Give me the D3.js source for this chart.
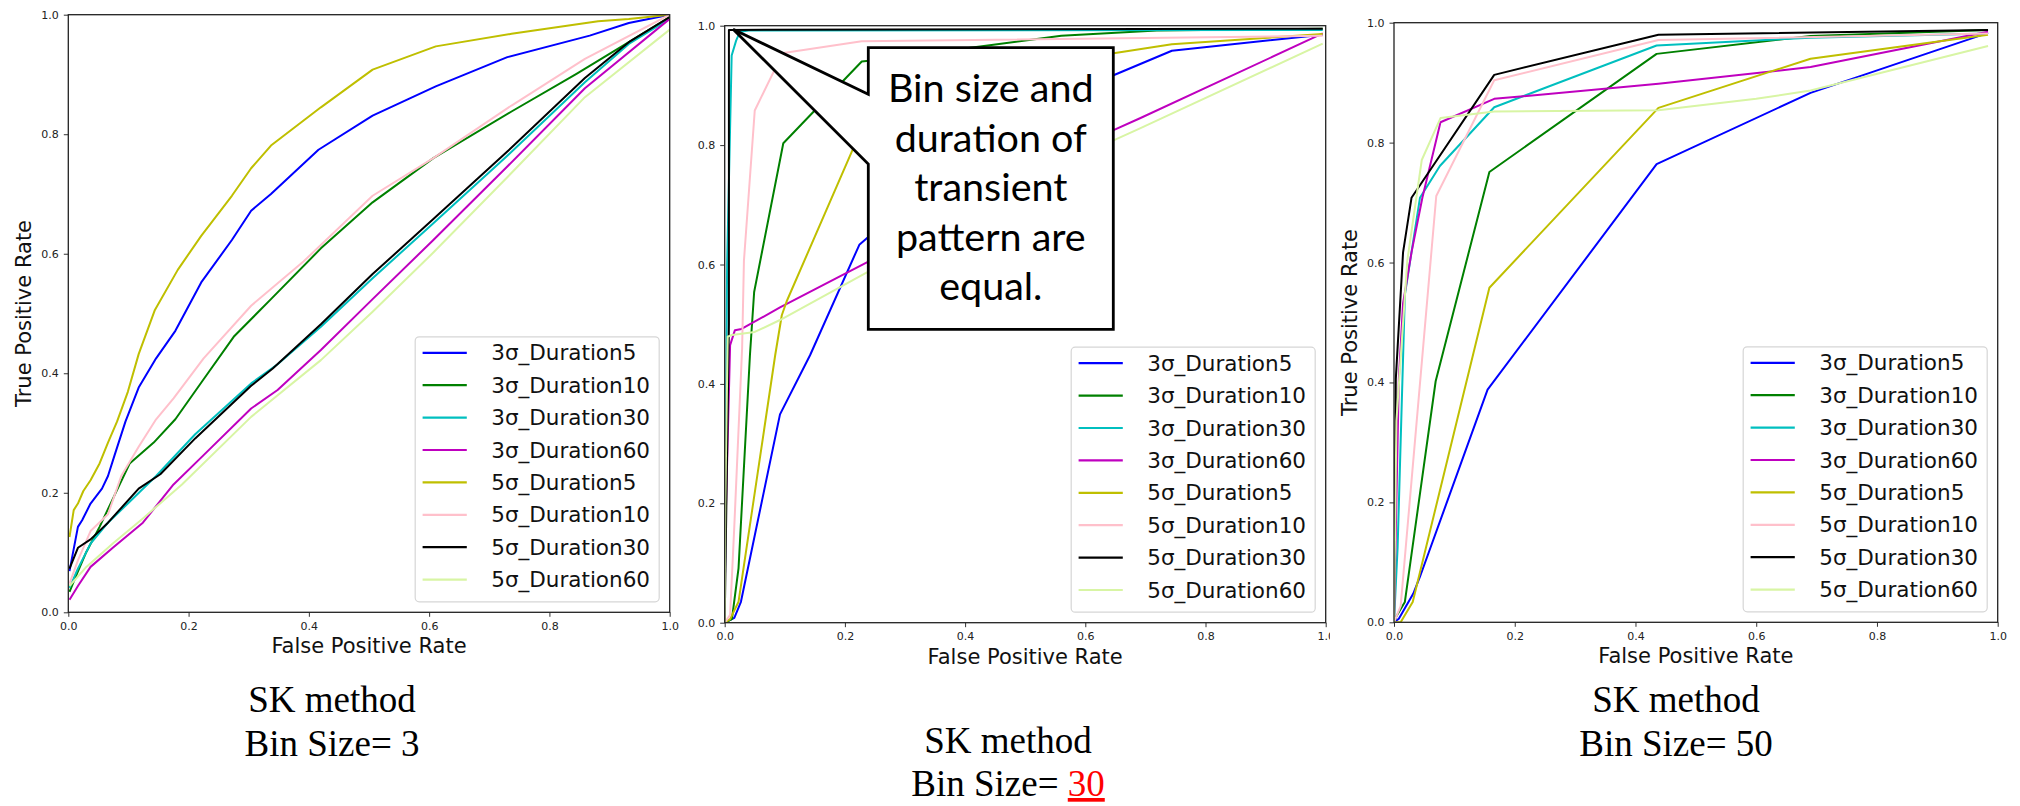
<!DOCTYPE html>
<html>
<head>
<meta charset="utf-8">
<script src="https://cdn.jsdelivr.net/npm/d3@7"></script>
<style>
  html, body { margin: 0; padding: 0; background: #fff; }
  svg { display: block; }
</style>
</head>
<body>
<svg id="chart" width="2020" height="806"></svg>
<script>
// legend names and line colours (matplotlib short colours)
var seriesNames = ["3σ_Duration5", "3σ_Duration10", "3σ_Duration30", "3σ_Duration60",
                   "5σ_Duration5", "5σ_Duration10", "5σ_Duration30", "5σ_Duration60"];
var seriesColors = ["#0000ff", "#008000", "#00bfbf", "#bf00bf",
                    "#bfbf00", "#ffc0cb", "#000000", "#d8f5a4"];
var tickValues = [0, 0.2, 0.4, 0.6, 0.8, 1.0];

// ---- Bin size 3 (FPR, TPR) ----
var bin3_3s_d5 = [[0.002,0.069],[0.016,0.143],[0.023,0.154],[0.037,0.182],[0.056,0.207],[0.066,0.228],[0.077,0.263],[0.095,0.319],[0.117,0.376],[0.146,0.425],[0.178,0.471],[0.221,0.552],[0.272,0.623],[0.304,0.672],[0.337,0.700],[0.416,0.774],[0.506,0.831],[0.611,0.880],[0.73,0.929],[0.867,0.965],[0.932,0.986],[1,1]];
var bin3_3s_d10 = [[0.002,0.034],[0.012,0.059],[0.03,0.101],[0.052,0.143],[0.077,0.196],[0.102,0.249],[0.142,0.284],[0.178,0.323],[0.225,0.39],[0.275,0.461],[0.337,0.524],[0.42,0.609],[0.506,0.686],[0.607,0.76],[0.737,0.838],[0.845,0.901],[0.932,0.954],[1,0.996]];
var bin3_3s_d30 = [[0.002,0.041],[0.016,0.073],[0.037,0.115],[0.066,0.15],[0.102,0.185],[0.146,0.228],[0.211,0.298],[0.304,0.383],[0.348,0.415],[0.42,0.478],[0.506,0.559],[0.607,0.651],[0.73,0.764],[0.859,0.887],[0.932,0.951],[1,0.993]];
var bin3_3s_d60 = [[0.002,0.021],[0.016,0.044],[0.037,0.076],[0.074,0.108],[0.124,0.15],[0.175,0.214],[0.225,0.263],[0.304,0.341],[0.348,0.372],[0.42,0.439],[0.506,0.524],[0.607,0.623],[0.73,0.746],[0.859,0.877],[1,0.993]];
var bin3_5s_d5 = [[0.002,0.126],[0.009,0.171],[0.016,0.182],[0.025,0.203],[0.037,0.221],[0.052,0.249],[0.066,0.284],[0.081,0.319],[0.099,0.369],[0.117,0.432],[0.144,0.506],[0.182,0.573],[0.221,0.63],[0.272,0.697],[0.304,0.743],[0.337,0.781],[0.42,0.845],[0.506,0.908],[0.611,0.947],[0.737,0.968],[0.881,0.989],[0.932,0.993],[1,1]];
var bin3_5s_d10 = [[0.002,0.048],[0.016,0.087],[0.037,0.136],[0.066,0.164],[0.088,0.228],[0.117,0.277],[0.146,0.323],[0.175,0.358],[0.225,0.425],[0.304,0.513],[0.391,0.587],[0.506,0.697],[0.607,0.76],[0.737,0.848],[0.859,0.926],[1,1]];
var bin3_5s_d30 = [[0.002,0.073],[0.016,0.108],[0.037,0.122],[0.066,0.15],[0.117,0.207],[0.153,0.231],[0.211,0.291],[0.304,0.379],[0.34,0.408],[0.42,0.482],[0.506,0.566],[0.607,0.658],[0.73,0.771],[0.859,0.894],[0.932,0.954],[1,0.996]];
var bin3_5s_d60 = [[0.002,0.044],[0.03,0.076],[0.074,0.115],[0.124,0.157],[0.189,0.214],[0.304,0.327],[0.42,0.422],[0.506,0.503],[0.607,0.602],[0.73,0.728],[0.859,0.862],[1,0.975]];

// ---- Bin size 30 ----
var bin30_3s_d5 = [[0,0],[0.016,0.008],[0.027,0.035],[0.092,0.349],[0.142,0.448],[0.224,0.633],[0.45,0.83],[0.647,0.917],[0.744,0.958],[0.995,0.985]];
var bin30_3s_d10 = [[0,0],[0.012,0.006],[0.023,0.091],[0.042,0.448],[0.049,0.554],[0.0975,0.803],[0.228,0.94],[0.236,0.941],[0.425,0.965],[0.56,0.983],[0.719,0.992],[0.995,0.995]];
var bin30_3s_d30 = [[0,0],[0.004,0.6],[0.0116,0.95],[0.019,0.975],[0.0255,0.99],[0.04,0.992],[0.995,0.993]];
var bin30_3s_d60 = [[0,0],[0.001,0.147],[0.009,0.465],[0.017,0.49],[0.028,0.492],[0.092,0.528],[0.239,0.605],[0.647,0.825],[0.691,0.845],[0.995,0.987]];
var bin30_5s_d5 = [[0,0],[0.009,0.006],[0.023,0.035],[0.084,0.448],[0.095,0.515],[0.103,0.538],[0.214,0.795],[0.35,0.91],[0.647,0.954],[0.744,0.969],[0.995,0.986]];
var bin30_5s_d10 = [[0,0],[0.009,0.013],[0.016,0.162],[0.029,0.46],[0.032,0.606],[0.05,0.858],[0.084,0.928],[0.095,0.954],[0.228,0.974],[0.995,0.983]];
var bin30_5s_d30 = [[0,0],[0.007,0.5],[0.007,0.993],[0.995,0.995]];
var bin30_5s_d60 = [[0,0],[0.001,0.2],[0.005,0.479],[0.012,0.482],[0.05,0.487],[0.092,0.507],[0.239,0.588],[0.647,0.808],[0.691,0.828],[0.995,0.97]];

// ---- Bin size 50 ----
var bin50_3s_d5 = [[0,0],[0.008,0.006],[0.032,0.048],[0.043,0.076],[0.155,0.388],[0.435,0.764],[0.69,0.883],[0.984,0.983]];
var bin50_3s_d10 = [[0,0],[0.004,0.01],[0.018,0.034],[0.069,0.402],[0.158,0.751],[0.435,0.948],[0.69,0.978],[0.984,0.988]];
var bin50_3s_d30 = [[0,0],[0.006,0.125],[0.018,0.546],[0.043,0.708],[0.076,0.761],[0.166,0.859],[0.435,0.962],[0.69,0.975],[0.984,0.982]];
var bin50_3s_d60 = [[0,0],[0.008,0.406],[0.015,0.532],[0.029,0.617],[0.047,0.708],[0.077,0.834],[0.166,0.873],[0.438,0.898],[0.69,0.926],[0.984,0.985]];
var bin50_5s_d5 = [[0,0],[0.011,0],[0.031,0.034],[0.158,0.558],[0.438,0.858],[0.69,0.94],[0.984,0.98]];
var bin50_5s_d10 = [[0,0],[0.011,0.027],[0.07,0.711],[0.166,0.904],[0.438,0.971],[0.984,0.982]];
var bin50_5s_d30 = [[0,0],[0.003,0.406],[0.015,0.617],[0.029,0.708],[0.043,0.729],[0.166,0.913],[0.438,0.98],[0.984,0.988]];
var bin50_5s_d60 = [[0,0],[0.004,0.336],[0.022,0.603],[0.046,0.771],[0.077,0.841],[0.166,0.852],[0.438,0.854],[0.6,0.873],[0.69,0.887],[0.984,0.961]];

// where the callout arrow points to (bin 30 panel)
var calloutTip = [0.014, 0.994];
var calloutLines = ["Bin size and", "duration of", "transient", "pattern are", "equal."];

var svg = d3.select("#chart");
var sansFont = "'DejaVu Sans', sans-serif";
var serifFont = "'Times New Roman', 'Liberation Serif', serif";

/**
 * Zeichnet ein ROC-Diagramm mit Achsen, Kurven und Legende.
 */
function drawPanel(p) {
  var g = svg.append("g");
  var x = d3.scaleLinear().domain([0, 1]).range([p.left, p.right]);
  var y = d3.scaleLinear().domain([0, 1]).range([p.bottom, p.top]);

  var clipId = "clip" + p.id;
  g.append("clipPath").attr("id", clipId).append("rect")
    .attr("x", p.left).attr("y", p.top)
    .attr("width", p.right - p.left).attr("height", p.bottom - p.top);

  var line = d3.line().x(function(d){ return x(d[0]); }).y(function(d){ return y(d[1]); });
  g.append("g").attr("clip-path", "url(#" + clipId + ")")
    .selectAll("path").data(p.series).join("path")
    .attr("d", line)
    .attr("fill", "none")
    .attr("stroke", function(d, i){ return seriesColors[i]; })
    .attr("stroke-width", 2)
    .attr("stroke-linejoin", "round");

  // Achsen
  var fmt = d3.format(".1f");
  var xAxis = g.append("g").attr("transform", "translate(0," + p.bottom + ")")
    .call(d3.axisBottom(x).tickValues(tickValues).tickFormat(fmt).tickSize(4.5).tickPadding(5));
  var yAxis = g.append("g").attr("transform", "translate(" + p.left + ",0)")
    .call(d3.axisLeft(y).tickValues(tickValues).tickFormat(fmt).tickSize(4.5).tickPadding(5));
  [xAxis, yAxis].forEach(function(a){
    a.select(".domain").remove();
    a.selectAll("line").attr("stroke", "#333");
    a.selectAll("text").attr("fill", "#222")
      .style("font-family", sansFont).style("font-size", "11px");
  });

  g.append("rect")
    .attr("x", p.left).attr("y", p.top)
    .attr("width", p.right - p.left).attr("height", p.bottom - p.top)
    .attr("fill", "none").attr("stroke", "#222").attr("stroke-width", 1.3);

  g.append("text")
    .attr("x", (p.left + p.right) / 2).attr("y", p.bottom + 41)
    .attr("text-anchor", "middle")
    .style("font-family", sansFont).style("font-size", "21px").attr("fill", "#111")
    .text("False Positive Rate");

  if (p.ylabel) {
    var cy = (p.top + p.bottom) / 2;
    g.append("text")
      .attr("transform", "translate(" + (p.left - 37) + "," + cy + ") rotate(-90)")
      .attr("text-anchor", "middle")
      .style("font-family", sansFont).style("font-size", "21px").attr("fill", "#111")
      .text("True Positive Rate");
  }

  // Legende unten rechts
  var lw = 244, lh = 265;
  var lx = p.right - 10.5 - lw, ly = p.bottom - 10.5 - lh;
  var leg = g.append("g");
  leg.append("rect")
    .attr("x", lx).attr("y", ly).attr("width", lw).attr("height", lh)
    .attr("rx", 4).attr("fill", "#fff").attr("fill-opacity", 0.8)
    .attr("stroke", "#d6d6d6").attr("stroke-width", 1.2);
  var items = leg.selectAll("g.item").data(seriesNames).join("g")
    .attr("transform", function(d, i){ return "translate(" + lx + "," + (ly + 16 + i * 32.4) + ")"; });
  items.append("line")
    .attr("x1", 7.4).attr("x2", 51.6)
    .attr("stroke", function(d, i){ return seriesColors[i]; })
    .attr("stroke-width", 2.2);
  items.append("text")
    .attr("x", 76).attr("dy", "0.35em")
    .style("font-family", sansFont).style("font-size", "21.5px").attr("fill", "#111")
    .text(function(d){ return d; });

  return {g: g, x: x, y: y};
}

function caption(cx, y1, y2, binLabel, red) {
  svg.append("text").attr("x", cx).attr("y", y1).attr("text-anchor", "middle")
    .style("font-family", serifFont).style("font-size", "37px").attr("fill", "#000")
    .text("SK method");
  var t2 = svg.append("text").attr("x", cx).attr("y", y2).attr("text-anchor", "middle")
    .style("font-family", serifFont).style("font-size", "37px").attr("fill", "#000");
  t2.append("tspan").text("Bin Size= ");
  var num = t2.append("tspan").text(binLabel);
  if (red) {
    num.attr("fill", "#ff0000").style("text-decoration", "underline");
  }
}

// Panel 1: Bin size 3
drawPanel({id: 1, left: 68.3, right: 669.7, top: 14.7, bottom: 612.3, ylabel: true,
  series: [bin3_3s_d5, bin3_3s_d10, bin3_3s_d30, bin3_3s_d60, bin3_5s_d5, bin3_5s_d10, bin3_5s_d30, bin3_5s_d60]});

// Panel 2: Bin size 30 (with callout)
var p2 = drawPanel({id: 2, left: 724.7, right: 1325.7, top: 25.7, bottom: 622.7, ylabel: false,
  series: [bin30_3s_d5, bin30_3s_d10, bin30_3s_d30, bin30_3s_d60, bin30_5s_d5, bin30_5s_d10, bin30_5s_d30, bin30_5s_d60]});

var bx0 = 868.3, bx1 = 1113.3, by0 = 47.7, by1 = 329.3;
var tx = p2.x(calloutTip[0]), ty = p2.y(calloutTip[1]);
var callout = d3.path();
callout.moveTo(bx0, by0);
callout.lineTo(bx1, by0);
callout.lineTo(bx1, by1);
callout.lineTo(bx0, by1);
callout.lineTo(bx0, 164);
callout.lineTo(tx, ty);
callout.lineTo(bx0, 94.3);
callout.closePath();
svg.append("path").attr("d", callout.toString())
  .attr("fill", "#fff").attr("stroke", "#000").attr("stroke-width", 2.8)
  .attr("stroke-linejoin", "miter");
svg.append("g").selectAll("text").data(calloutLines).join("text")
  .attr("x", (bx0 + bx1) / 2)
  .attr("y", function(d, i){ return 102.3 + i * 49.4; })
  .attr("text-anchor", "middle")
  .style("font-family", "Lato, 'Open Sans', sans-serif").style("font-size", "39.5px")
  .attr("fill", "#000")
  .text(function(d){ return d; });

// panel 3 picture covers the right edge of panel 2
svg.append("rect").attr("x", 1330).attr("y", 0).attr("width", 690).attr("height", 680).attr("fill", "#fff");

// Panel 3: Bin size 50
drawPanel({id: 3, left: 1394, right: 1997.7, top: 22.7, bottom: 622.3, ylabel: true,
  series: [bin50_3s_d5, bin50_3s_d10, bin50_3s_d30, bin50_3s_d60, bin50_5s_d5, bin50_5s_d10, bin50_5s_d30, bin50_5s_d60]});

caption(332, 712, 756, "3", false);
caption(1008, 752.5, 796, "30", true);
caption(1676, 712, 756, "50", false);
</script>
</body>
</html>
